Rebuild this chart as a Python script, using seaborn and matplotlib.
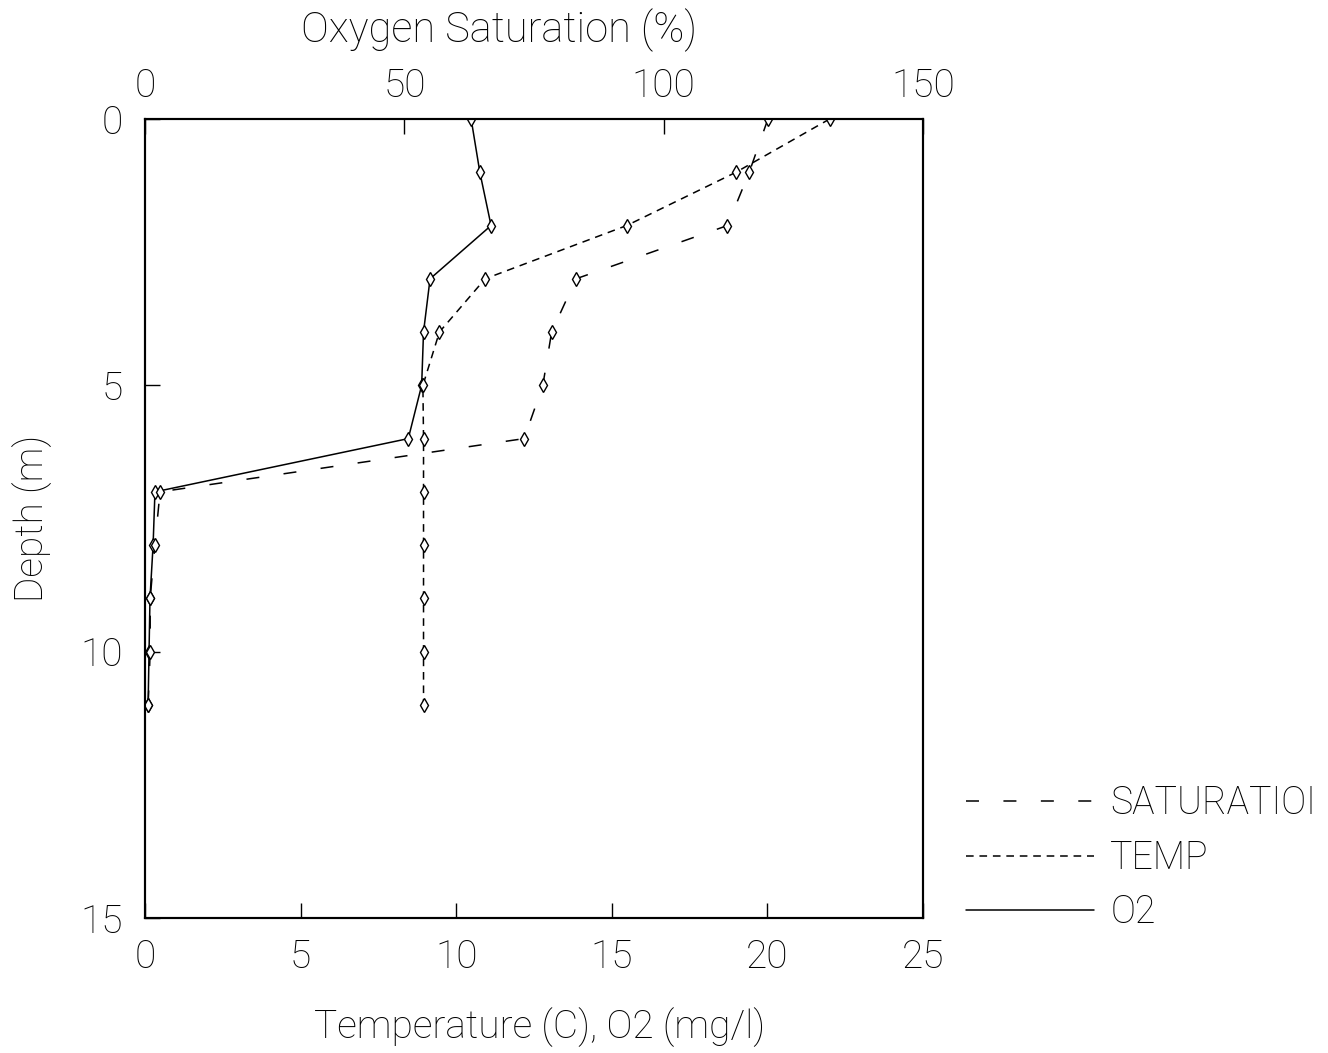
import matplotlib
matplotlib.use("Agg")
import matplotlib.pyplot as plt
from matplotlib.lines import Line2D
import seaborn as sns
import pandas as pd

# ---- data ----
depth = [0, 1, 2, 3, 4, 5, 6, 7, 8, 9, 10, 11]
o2 = [10.48, 10.76, 11.12, 9.16, 8.95, 8.89, 8.46, 0.32, 0.26, 0.16, 0.13, 0.10]
temp = [22.0, 18.99, 15.48, 10.93, 9.46, 8.93, 8.95, 8.95, 8.95, 8.95, 8.95, 8.95]
saturation = [120.1, 116.5, 112.3, 83.1, 78.4, 76.7, 73.1, 2.9, 1.9, 1.0, 1.0, 0.6]

bottom_ticks = [0, 5, 10, 15, 20, 25]
top_ticks = [0, 50, 100, 150]
depth_ticks = [0, 5, 10, 15]
legend_labels = ["SATURATIOI", "TEMP", "O2"]

df = pd.DataFrame({"depth": depth, "o2": o2, "temp": temp, "sat": saturation})

sns.set_style("white")
plt.rcParams["font.family"] = ["Roboto", "DejaVu Sans"]
plt.rcParams["font.weight"] = "light"
plt.rcParams["text.color"] = "black"
plt.rcParams["xtick.color"] = "black"
plt.rcParams["ytick.color"] = "black"
FS = 28

fig = plt.figure(figsize=(13.28, 10.53), dpi=100)
ax = fig.add_axes([145 / 1328, 1 - 918 / 1053, (923 - 145) / 1328, (918 - 119) / 1053])
ax2 = ax.twiny()

LW = 1.1
sat_dash = (8.5, 16)
temp_dash = (5.0, 3.8)
mk = dict(marker="d", markersize=7, markerfacecolor="white",
          markeredgecolor="black", markeredgewidth=1.0)

sns.lineplot(data=df, x="o2", y="depth", ax=ax, sort=False, estimator=None,
             color="black", linewidth=LW, **mk)
sns.lineplot(data=df, x="temp", y="depth", ax=ax, sort=False, estimator=None,
             color="black", linewidth=LW, dashes=False, **mk)
ax.lines[-1].set_dashes(temp_dash)
sns.lineplot(data=df, x="sat", y="depth", ax=ax2, sort=False, estimator=None,
             color="black", linewidth=LW, **mk)
ax2.lines[-1].set_dashes(sat_dash)

ax.set_xlim(0, 25)
ax2.set_xlim(0, 150)
ax.set_ylim(15, 0)

ax.set_xticks(bottom_ticks)
ax.set_yticks(depth_ticks)
ax2.set_xticks(top_ticks)
ax.set_xticklabels([str(t) for t in bottom_ticks], fontsize=FS)
ax.set_yticklabels([str(t) for t in depth_ticks], fontsize=FS)
ax2.set_xticklabels([str(t) for t in top_ticks], fontsize=FS)

ax.tick_params(axis="x", direction="in", length=11, width=1.0, pad=15, bottom=True, top=False)
ax.tick_params(axis="y", direction="in", length=11, width=1.0, pad=16, left=True, right=False)
ax2.tick_params(axis="x", direction="in", length=11, width=1.0, pad=10, top=True, bottom=False)

for a in (ax, ax2):
    for s in a.spines.values():
        s.set_linewidth(1.5)
        s.set_color("black")
    a.set_xlabel("")
    a.set_ylabel("")

fig.text(499 / 1328, 1 - 30 / 1053, "Oxygen Saturation (%)", fontsize=FS + 2,
         ha="center", va="center")
fig.text(540 / 1328, 1 - 1027 / 1053, "Temperature (C), O2 (mg/l)", fontsize=FS,
         ha="center", va="center")
fig.text(32 / 1328, 1 - 518 / 1053, "Depth (m)", fontsize=FS, rotation=90,
         ha="center", va="center")

handles = [
    Line2D([], [], color="black", linewidth=LW, dashes=sat_dash),
    Line2D([], [], color="black", linewidth=LW, dashes=temp_dash),
    Line2D([], [], color="black", linewidth=LW),
]
fig.legend(handles, legend_labels, loc="upper left",
           bbox_to_anchor=(966 / 1328, 1 - 785 / 1053), frameon=False,
           fontsize=FS - 1, handlelength=3.4, handletextpad=0.45, labelspacing=0.45,
           borderaxespad=0, borderpad=0)

fig.savefig("out.png", dpi=100, facecolor="white")
